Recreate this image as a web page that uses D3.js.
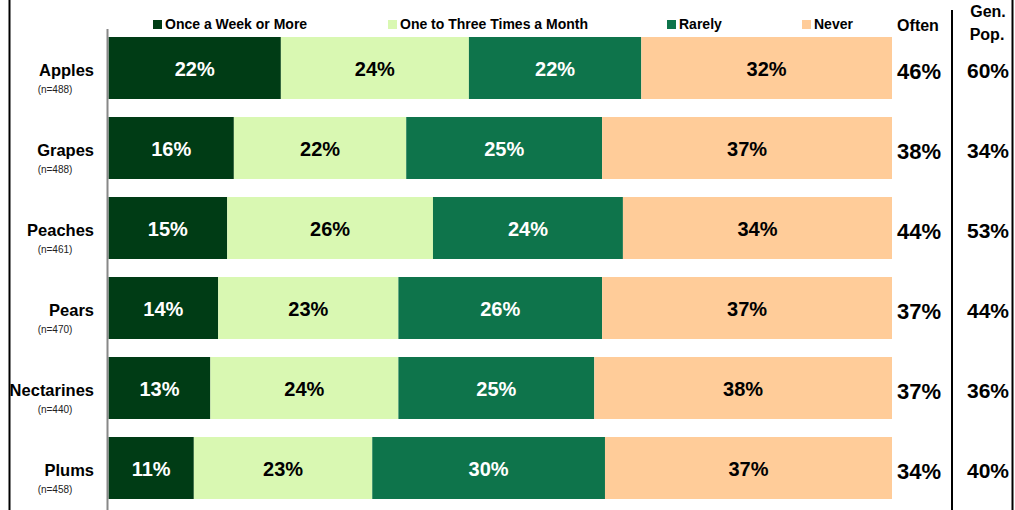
<!DOCTYPE html>
<html>
<head>
<meta charset="utf-8">
<script src="https://cdn.jsdelivr.net/npm/d3@7"></script>
<style>
  body { margin: 0; background: #fff; }
  svg { display: block; font-family: Arial, "Liberation Sans", sans-serif; }
</style>
</head>
<body>
<svg id="chart" width="1015" height="510"></svg>
<script>
/* DATA */
const fruits = ["Apples", "Grapes", "Peaches", "Pears", "Nectarines", "Plums"];
const sampleSizes = [488, 488, 461, 470, 440, 458];
const series = ["Once a Week or More", "One to Three Times a Month", "Rarely", "Never"];
const weekly = [22, 16, 15, 14, 13, 11];
const monthly = [24, 22, 26, 23, 24, 23];
const rarely = [22, 25, 24, 26, 25, 30];
const never = [32, 37, 34, 37, 38, 37];
const often = [46, 38, 44, 37, 37, 34];
const genPop = [60, 34, 53, 44, 36, 40];

const colors = ["#003c15", "#d9f8b2", "#0e744b", "#ffcc99"];
const labelColors = ["#fff", "#000", "#fff", "#000"];

const rows = fruits.map((f, i) => ({
  fruit: f, n: sampleSizes[i],
  [series[0]]: weekly[i], [series[1]]: monthly[i],
  [series[2]]: rarely[i], [series[3]]: never[i]
}));

const svg = d3.select("#chart");

// each row is scaled to fill the full width
const stacked = d3.stack().keys(series).offset(d3.stackOffsetExpand)(rows);

const x = d3.scaleLinear().domain([0, 1]).range([108.5, 892]);
const y = d3.scaleBand().domain(fruits).range([37, 499]).paddingInner(0.225).paddingOuter(0);

// frame lines
svg.append("line").attr("x1", 9.5).attr("x2", 9.5).attr("y1", 0).attr("y2", 510)
  .attr("stroke", "#000").attr("stroke-width", 2);
svg.append("line").attr("x1", 1012.5).attr("x2", 1012.5).attr("y1", 0).attr("y2", 510)
  .attr("stroke", "#000").attr("stroke-width", 2);
svg.append("line").attr("x1", 952).attr("x2", 952).attr("y1", 10).attr("y2", 510)
  .attr("stroke", "#000").attr("stroke-width", 2);

// bars
const groups = svg.append("g").selectAll("g")
  .data(stacked)
  .join("g")
  .attr("fill", (d, i) => colors[i]);

groups.selectAll("rect")
  .data(d => d)
  .join("rect")
  .attr("x", d => x(d[0]))
  .attr("y", d => y(d.data.fruit))
  .attr("width", d => x(d[1]) - x(d[0]))
  .attr("height", y.bandwidth());

groups.selectAll("text")
  .data((d, i) => d.map(v => ({v, key: d.key, i})))
  .join("text")
  .attr("x", d => (x(d.v[0]) + x(d.v[1])) / 2)
  .attr("y", d => y(d.v.data.fruit) + y.bandwidth() / 2 + 8)
  .attr("text-anchor", "middle")
  .attr("font-size", 20)
  .attr("font-weight", "bold")
  .attr("fill", d => labelColors[d.i])
  .text(d => d.v.data[d.key] + "%");

// y axis line
svg.append("line").attr("x1", 107.5).attr("x2", 107.5).attr("y1", 29).attr("y2", 510)
  .attr("stroke", "#888").attr("stroke-width", 2);

// category labels
const cat = svg.append("g").selectAll("g").data(rows).join("g")
  .attr("transform", d => `translate(0,${y(d.fruit) + y.bandwidth() / 2})`);
cat.append("text")
  .attr("x", 94).attr("y", 8)
  .attr("text-anchor", "end")
  .attr("font-size", 16.5).attr("font-weight", "bold")
  .text(d => d.fruit);
cat.append("text")
  .attr("x", 55).attr("y", 25)
  .attr("text-anchor", "middle")
  .attr("font-size", 10).attr("fill", "#222")
  .text(d => `(n=${d.n})`);

// legend
const legendX = [153, 388, 667, 802];
const legend = svg.append("g").selectAll("g").data(series).join("g")
  .attr("transform", (d, i) => `translate(${legendX[i]},20)`);
legend.append("rect").attr("width", 9).attr("height", 9).attr("fill", (d, i) => colors[i]);
legend.append("text").attr("x", 12).attr("y", 9)
  .attr("font-size", 14).attr("font-weight", "bold")
  .text(d => d);

// right columns
svg.append("text").attr("x", 918).attr("y", 31).attr("text-anchor", "middle")
  .attr("font-size", 16).attr("font-weight", "bold").text("Often");
svg.append("text").attr("x", 988).attr("y", 17).attr("text-anchor", "middle")
  .attr("font-size", 16).attr("font-weight", "bold").text("Gen.");
svg.append("text").attr("x", 987).attr("y", 40).attr("text-anchor", "middle")
  .attr("font-size", 16).attr("font-weight", "bold").text("Pop.");

svg.append("g").selectAll("text").data(often).join("text")
  .attr("x", 919)
  .attr("y", (d, i) => y(fruits[i]) + y.bandwidth() / 2 + 11)
  .attr("text-anchor", "middle")
  .attr("font-size", 22).attr("font-weight", "bold")
  .text(d => d + "%");

svg.append("g").selectAll("text").data(genPop).join("text")
  .attr("x", 988)
  .attr("y", (d, i) => y(fruits[i]) + y.bandwidth() / 2 + 10)
  .attr("text-anchor", "middle")
  .attr("font-size", 21).attr("font-weight", "bold")
  .text(d => d + "%");
</script>
</body>
</html>
